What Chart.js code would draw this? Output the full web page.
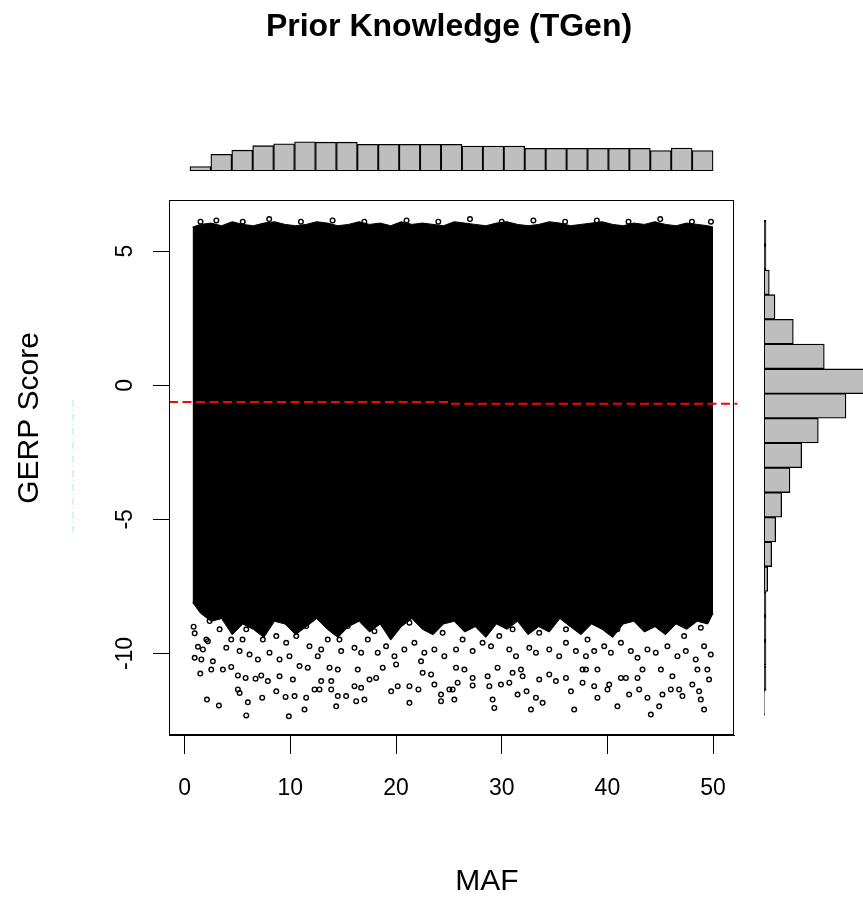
<!DOCTYPE html>
<html>
<head>
<meta charset="utf-8">
<script src="https://cdn.jsdelivr.net/npm/chart.js@4.4.1/dist/chart.umd.min.js"></script>
<style>
  html, body { margin: 0; padding: 0; background: #fff; width: 863px; height: 898px; overflow: hidden; }
  canvas { position: absolute; }
</style>
</head>
<body>
<canvas id="topHist" width="863" height="180" style="left:0;top:0"></canvas>
<canvas id="sideHist" width="130" height="898" style="left:760px;top:0"></canvas>
<canvas id="main" width="863" height="898" style="left:0;top:0"></canvas>
<script>
const FONT = '"Liberation Sans", Arial, sans-serif';

// axes
const mafTicks = [0, 10, 20, 30, 40, 50];
const gerpTicks = [-10, -5, 0, 5];
const mafRange = [-1.48, 51.98];
const gerpRange = [-13.04, 6.91];

// outline of the saturated (solid black) part of the cloud
const cloudMaf = [0.75, 1.5, 2.5, 3.5, 4.5, 5.5, 6.5, 7.5, 8.5, 9.5, 10.5, 11.5, 12.5, 13.5, 14.5, 15.5, 16.5,
                  17.5, 18.5, 19.5, 20.5, 21.5, 22.5, 23.5, 24.5, 25.5, 26.5, 27.5, 28.5, 29.5, 30.5, 31.5, 32.5,
                  33.5, 34.5, 35.5, 36.5, 37.5, 38.5, 39.5, 40.5, 41.5, 42.5, 43.5, 44.5, 45.5, 46.5, 47.5, 48.5,
                  49.5, 50];
const cloudTop = [5.9, 6.0, 6.05, 5.95, 6.1, 6.0, 5.95, 6.05, 6.1, 6.0, 5.95, 6.0, 6.1, 6.05, 5.95, 6.0, 6.1,
                  6.0, 6.05, 5.95, 6.1, 6.0, 6.05, 6.0, 5.95, 6.1, 6.05, 6.0, 5.95, 6.05, 6.1, 6.0, 5.95,
                  6.0, 6.1, 6.05, 5.95, 6.0, 6.05, 6.1, 6.0, 5.95, 6.05, 6.0, 6.1, 6.0, 5.95, 6.05, 6.0,
                  5.95, 5.9];
const cloudBottom = [-8.1, -8.5, -8.8, -8.7, -9.3, -8.9, -9.1, -9.4, -8.8, -8.9, -9.3, -9.0, -8.7, -9.1, -9.4, -9.0, -8.8,
                     -9.2, -8.9, -9.5, -9.0, -8.7, -9.1, -9.3, -8.9, -8.8, -9.2, -9.0, -9.4, -8.9, -9.1, -8.8, -9.3,
                     -9.0, -9.2, -8.7, -9.0, -9.3, -8.9, -9.1, -9.4, -8.9, -8.8, -9.2, -9.0, -9.3, -8.9, -9.1, -8.8,
                     -8.9, -8.5];

// loose points outside the solid part
const loosePoints = [
  [1.5,6.1],[3,6.15],[5.5,6.1],[8,6.2],[11,6.1],[14,6.15],[17,6.1],[21,6.15],[24,6.1],[27,6.2],
  [30,6.1],[33,6.15],[36,6.1],[39,6.15],[42,6.1],[45,6.2],[48,6.1],[49.8,6.1],
  [0.85,-9.00],[0.95,-9.25],[1.26,-9.75],[0.95,-10.16],[1.58,-10.22],[2.67,-10.29],[2.52,-10.60],[1.48,-10.75],
  [3.62,-10.60],[4.41,-10.50],[5.04,-10.82],[5.77,-10.91],[6.71,-10.94],[7.25,-10.82],[7.87,-11.03],[8.67,-11.41],
  [5.04,-11.34],[5.20,-11.47],[2.11,-11.72],[3.24,-11.94],[5.98,-11.82],[7.34,-11.65],[9.55,-11.62],[10.40,-11.59],
  [11.50,-11.65],[5.83,-12.31],[9.86,-12.34],[11.34,-12.09],[8.98,-10.85],[10.24,-10.97],[12.29,-11.34],[11.65,-10.53],
  [1.89,-8.36],[2.36,-8.79],[3.31,-9.10],[4.41,-9.48],[2.20,-9.54],[1.73,-9.85],[3.94,-9.79],[5.20,-9.91],
  [6.14,-10.04],[6.93,-10.22],[8.03,-9.97],[8.98,-10.22],[9.92,-10.10],[10.87,-10.47],[7.40,-9.48],[8.67,-9.35],
  [9.61,-9.60],[10.56,-9.35],[11.81,-9.73],[5.83,-9.10],[4.89,-8.85],[11.50,-8.98],[2.05,-9.48],[5.48,-9.48],
  [13.71,-10.53],[14.49,-10.60],[12.92,-11.03],[13.87,-11.03],[12.76,-11.34],[13.87,-11.34],[14.49,-11.59],[14.34,-11.97],
  [15.28,-11.59],[16.07,-11.22],[16.70,-11.28],[16.23,-11.78],[17.01,-11.72],[17.49,-10.97],[18.12,-10.91],[16.38,-10.60],
  [18.74,-10.53],[19.54,-11.41],[20.16,-11.22],[21.27,-11.22],[22.12,-11.34],[21.27,-11.84],[22.52,-10.72],[23.63,-11.16],
  [24.26,-11.53],[24.26,-11.78],[25.05,-11.34],[23.32,-10.78],[22.37,-10.29],[20.01,-10.41],
  [12.92,-9.85],[13.54,-9.48],[14.81,-9.91],[14.65,-9.48],[16.07,-9.79],[16.70,-9.97],[17.33,-9.48],[18.27,-9.97],
  [19.06,-9.73],[19.85,-10.10],[20.79,-9.85],[21.74,-9.60],[22.68,-9.97],[23.63,-9.85],[24.57,-10.10],[24.41,-9.23],
  [19.54,-9.10],[15.43,-8.98],[17.96,-9.17],[21.27,-8.85],[12.60,-10.10],
  [25.68,-10.53],[26.47,-10.60],[25.83,-11.09],[25.36,-11.34],[25.52,-11.72],[27.25,-10.91],[27.25,-11.19],[28.67,-10.85],
  [28.83,-11.22],[29.61,-10.53],[29.93,-11.16],[29.14,-11.72],[29.30,-12.03],[30.72,-11.09],[31.03,-10.72],[31.50,-11.53],
  [31.82,-10.60],[31.98,-10.85],[32.35,-11.41],[33.24,-11.65],[33.87,-11.84],[32.77,-12.09],[33.55,-10.97],[34.50,-10.78],
  [35.13,-11.03],[36.08,-10.91],[36.55,-11.41],[36.86,-12.09],[37.65,-10.60],[37.65,-11.09],
  [25.68,-9.85],[26.30,-9.48],[27.25,-9.91],[28.19,-9.60],[28.99,-9.73],[29.77,-9.35],[30.72,-9.85],[31.35,-10.10],
  [32.61,-9.79],[33.24,-9.97],[34.50,-9.85],[35.44,-10.10],[36.08,-9.60],[37.02,-9.91],[37.97,-10.10],[26.94,-8.98],
  [31.03,-9.10],[33.55,-9.23],[36.08,-9.10],
  [37.97,-10.60],[39.06,-10.60],[38.75,-11.22],[39.06,-11.65],[40.17,-11.16],[40.01,-11.34],[40.95,-11.97],[41.28,-10.91],
  [41.75,-10.91],[42.06,-11.53],[43.01,-11.34],[43.79,-11.65],[43.32,-10.60],[42.85,-10.91],[44.11,-12.28],[44.90,-11.97],
  [45.21,-11.53],[46.00,-11.34],[46.79,-11.34],[47.10,-11.59],[45.06,-10.60],[46.15,-10.85],[48.04,-11.16],[48.68,-11.41],
  [48.84,-11.72],[49.15,-12.09],[49.62,-10.97],[48.52,-10.60],[49.46,-10.60],
  [38.12,-9.48],[38.75,-9.91],[39.70,-9.73],[40.33,-9.97],[41.28,-9.60],[42.22,-9.91],[42.85,-10.16],[43.79,-9.85],
  [44.58,-9.97],[45.68,-9.73],[46.63,-10.10],[47.42,-9.91],[48.36,-10.22],[49.15,-9.73],[49.78,-10.04],[40.95,-9.10],
  [45.68,-8.98],[47.26,-9.35],[48.84,-9.04]
];

// red dashed reference line (two slightly offset pieces)
const refLeftMaf = [-1.48, 25.2];
const refLeftGerp = [-0.62, -0.62];
const refRightMaf = [25.2, 52.3];
const refRightGerp = [-0.69, -0.69];

// marginal histograms
const mafBins = [1.49, 3.47, 5.45, 7.43, 9.41, 11.39, 13.37, 15.35, 17.33, 19.31, 21.29, 23.27, 25.25,
                 27.23, 29.21, 31.19, 33.17, 35.15, 37.13, 39.11, 41.09, 43.07, 45.05, 47.03, 49.01];
const mafCounts = [4.5, 16.7, 20.8, 25.3, 27.1, 29.2, 28.8, 28.8, 26.7, 26.7, 26.7, 26.7, 26.7,
                   25, 25, 25, 22.6, 22.6, 22.6, 22.6, 22.6, 22.6, 20.5, 22.9, 20.5];
const gerpBins = [-11.84, -10.92, -9.99, -9.07, -8.15, -7.23, -6.30, -5.38, -4.46, -3.54,
                  -2.61, -1.69, -0.77, 0.15, 1.08, 2.00, 2.92, 3.84, 4.77, 5.69];
const gerpCounts = [0.6, 2, 2, 2, 2, 3.7, 7.7, 11.7, 17.7, 26,
                    37.7, 54.3, 82, 108, 60.3, 29.3, 11, 5.3, 2, 2];

const xy = (xs, ys) => xs.map((x, i) => ({ x, y: ys[i] }));

// ---- main scatter ----
const decor = {
  id: 'decor',
  afterDraw(chart) {
    const ctx = chart.ctx, a = chart.chartArea, ys = chart.scales.y;
    ctx.save();
    ctx.strokeStyle = '#000';
    ctx.lineWidth = 1;
    ctx.strokeRect(a.left + 0.5, a.top + 0.5, a.right - a.left - 1, a.bottom - a.top - 1);

    ctx.fillStyle = '#000';
    ctx.textAlign = 'center';
    ctx.textBaseline = 'middle';
    ctx.font = '23px ' + FONT;
    gerpTicks.forEach(v => {
      ctx.save();
      ctx.translate(126, ys.getPixelForValue(v));
      ctx.rotate(-Math.PI / 2);
      ctx.fillText(String(v), 0, 0);
      ctx.restore();
    });

    ctx.font = 'bold 32px ' + FONT;
    ctx.fillText('Prior Knowledge (TGen)', 449, 27);

    ctx.font = '30px ' + FONT;
    ctx.fillText('MAF', 487, 882);
    ctx.save();
    ctx.translate(30, 418);
    ctx.rotate(-Math.PI / 2);
    ctx.fillText('GERP Score', 0, 0);
    ctx.restore();

    // faint cyan dash-dot mark left of the axis
    ctx.strokeStyle = '#bdf3f8';
    ctx.lineWidth = 1.5;
    ctx.setLineDash([7, 3, 1, 3]);
    ctx.beginPath();
    ctx.moveTo(73, 400);
    ctx.lineTo(73, 532);
    ctx.stroke();
    ctx.restore();
  }
};

new Chart(document.getElementById('main'), {
  type: 'scatter',
  data: {
    datasets: [
      { type: 'line', data: xy(refLeftMaf, refLeftGerp), borderColor: '#ff0000', borderWidth: 2,
        borderDash: [9, 4.5], pointRadius: 0, fill: false, clip: false },
      { type: 'line', data: xy(refRightMaf, refRightGerp), borderColor: '#ff0000', borderWidth: 2,
        borderDash: [9, 4.5], pointRadius: 0, fill: false, clip: false },
      { data: loosePoints.map(p => ({ x: p[0], y: p[1] })), pointStyle: 'circle', pointRadius: 2.3,
        borderWidth: 1.4, borderColor: '#000', backgroundColor: 'rgba(0,0,0,0)' },
      { type: 'line', data: xy(cloudMaf, cloudTop), borderColor: '#000', borderWidth: 1,
        backgroundColor: '#000', pointRadius: 0, fill: '+1', tension: 0 },
      { type: 'line', data: xy(cloudMaf, cloudBottom), borderColor: '#000', borderWidth: 1,
        pointRadius: 0, fill: false, tension: 0 }
    ]
  },
  options: {
    responsive: false,
    animation: false,
    events: [],
    devicePixelRatio: 1,
    layout: { padding: { top: 200, right: 129, left: 0, bottom: 0 } },
    plugins: { legend: { display: false }, tooltip: { enabled: false }, title: { display: false } },
    scales: {
      x: {
        type: 'linear', min: mafRange[0], max: mafRange[1],
        afterBuildTicks: s => { s.ticks = mafTicks.map(v => ({ value: v })); },
        afterFit: s => { s.height = 163; },
        grid: { drawOnChartArea: false, drawTicks: true, tickLength: 19, color: '#000', lineWidth: 1 },
        border: { display: true, color: '#000', width: 1 },
        ticks: { color: '#000', font: { family: FONT, size: 23 }, padding: 21, maxRotation: 0, autoSkip: false }
      },
      y: {
        type: 'linear', min: gerpRange[0], max: gerpRange[1],
        afterBuildTicks: s => { s.ticks = gerpTicks.map(v => ({ value: v })); },
        afterFit: s => { s.width = 169; },
        grid: { drawOnChartArea: false, drawTicks: true, tickLength: 16, color: '#000', lineWidth: 1 },
        border: { display: true, color: '#000', width: 1 },
        ticks: { display: false }
      }
    }
  },
  plugins: [decor]
});

// ---- top histogram (MAF) ----
new Chart(document.getElementById('topHist'), {
  type: 'bar',
  data: {
    datasets: [{ data: xy(mafBins, mafCounts), backgroundColor: '#bebebe', borderColor: '#000',
      borderWidth: 1.3, borderSkipped: false, barPercentage: 1, categoryPercentage: 1 }]
  },
  options: {
    responsive: false, animation: false, events: [], devicePixelRatio: 1,
    layout: { padding: { top: 141, bottom: 9, left: 169, right: 129 } },
    plugins: { legend: { display: false }, tooltip: { enabled: false } },
    scales: {
      x: { type: 'linear', min: mafRange[0], max: mafRange[1], offset: false, display: false },
      y: { min: 0, max: 30, display: false }
    }
  }
});

// ---- side histogram (GERP) ----
new Chart(document.getElementById('sideHist'), {
  type: 'bar',
  data: {
    datasets: [{ data: gerpBins.map((b, i) => ({ y: b, x: gerpCounts[i] })),
      // near-empty bins collapse to just their outline, as in the original
      backgroundColor: c => (c.raw && c.raw.x <= 2 && c.raw.x > 1 ? '#000' : (c.raw && c.raw.x <= 1 ? '#777' : '#bebebe')),
      borderColor: '#000', borderWidth: 1.3, borderSkipped: false, barPercentage: 1, categoryPercentage: 1 }]
  },
  options: {
    indexAxis: 'y',
    responsive: false, animation: false, events: [], devicePixelRatio: 1,
    layout: { padding: { top: 200, bottom: 163, left: 4, right: 18 } },
    plugins: { legend: { display: false }, tooltip: { enabled: false } },
    scales: {
      y: { type: 'linear', min: gerpRange[0], max: gerpRange[1], offset: false, display: false },
      x: { min: 0, max: 108, display: false }
    }
  }
});
</script>
</body>
</html>
